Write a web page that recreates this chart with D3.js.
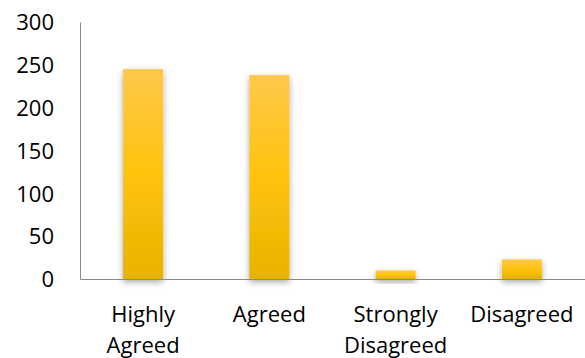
<!DOCTYPE html>
<html>
<head>
<meta charset="utf-8">
<script src="https://cdn.jsdelivr.net/npm/d3@7"></script>
<style>
html,body{margin:0;padding:0;background:#fff;}
svg{display:block;}
text{font-family:"Open Sans",sans-serif;fill:#000;}
</style>
</head>
<body>
<svg id="chart" width="585" height="358"></svg>
<script>
const categories = [["Highly","Agreed"],["Agreed"],["Strongly","Disagreed"],["Disagreed"]];
const values = [245, 238, 10, 23];
const yTicks = [0, 50, 100, 150, 200, 250, 300];

(function(){
const svg = d3.select("#chart");
const mLeft = 80, mRight = 585, mTop = 22, mBottom = 279;

const x = d3.scaleBand().domain(d3.range(categories.length)).range([mLeft, mRight]).paddingInner(0.683).paddingOuter(0.3415);
const y = d3.scaleLinear().domain([0, 300]).range([mBottom, mTop]);

const defs = svg.append("defs");
const grad = defs.append("linearGradient").attr("id","barGrad").attr("x1",0).attr("y1",0).attr("x2",0).attr("y2",1);
grad.append("stop").attr("offset","0%").attr("stop-color","#FFC84B");
grad.append("stop").attr("offset","50%").attr("stop-color","#FFC30D");
grad.append("stop").attr("offset","100%").attr("stop-color","#E8B200");
const f = defs.append("filter").attr("id","shadow").attr("x","-50%").attr("y","-50%").attr("width","200%").attr("height","200%");
f.append("feDropShadow").attr("dx",0).attr("dy",3).attr("stdDeviation",3).attr("flood-color","#000").attr("flood-opacity",0.35);

// bars
svg.append("g").selectAll("rect").data(values).join("rect")
  .attr("x",(d,i)=>x(i))
  .attr("width",x.bandwidth())
  .attr("y",d=>y(d))
  .attr("height",d=>y(0)-y(d))
  .attr("fill","url(#barGrad)")
  .attr("filter","url(#shadow)");

// axes
const yAxis = d3.axisLeft(y).tickValues(yTicks).tickSize(0).tickPadding(26);
const gy = svg.append("g").attr("transform",`translate(${mLeft},0)`).call(yAxis);
gy.select(".domain").attr("stroke","#898989").attr("stroke-width",1);
gy.selectAll("text").style("font-size","22px").style("font-family","'Open Sans',sans-serif").attr("fill","#000").attr("dy","0.35em");

const xAxis = d3.axisBottom(x).tickSize(0).tickFormat("");
const gx = svg.append("g").attr("transform",`translate(0,${mBottom})`).call(xAxis);
gx.select(".domain").attr("stroke","#898989").attr("stroke-width",1);

// category labels
const lab = svg.append("g").selectAll("text").data(categories).join("text")
  .attr("text-anchor","middle")
  .style("font-size","22px")
  .attr("x",(d,i)=>x(i)+x.bandwidth()/2)
  .attr("y",322);
lab.selectAll("tspan").data(d=>d).join("tspan")
  .attr("x",function(){return this.parentNode.getAttribute("x");})
  .attr("dy",(d,i)=>i===0?0:31)
  .text(d=>d);
})();
</script>
</body>
</html>
